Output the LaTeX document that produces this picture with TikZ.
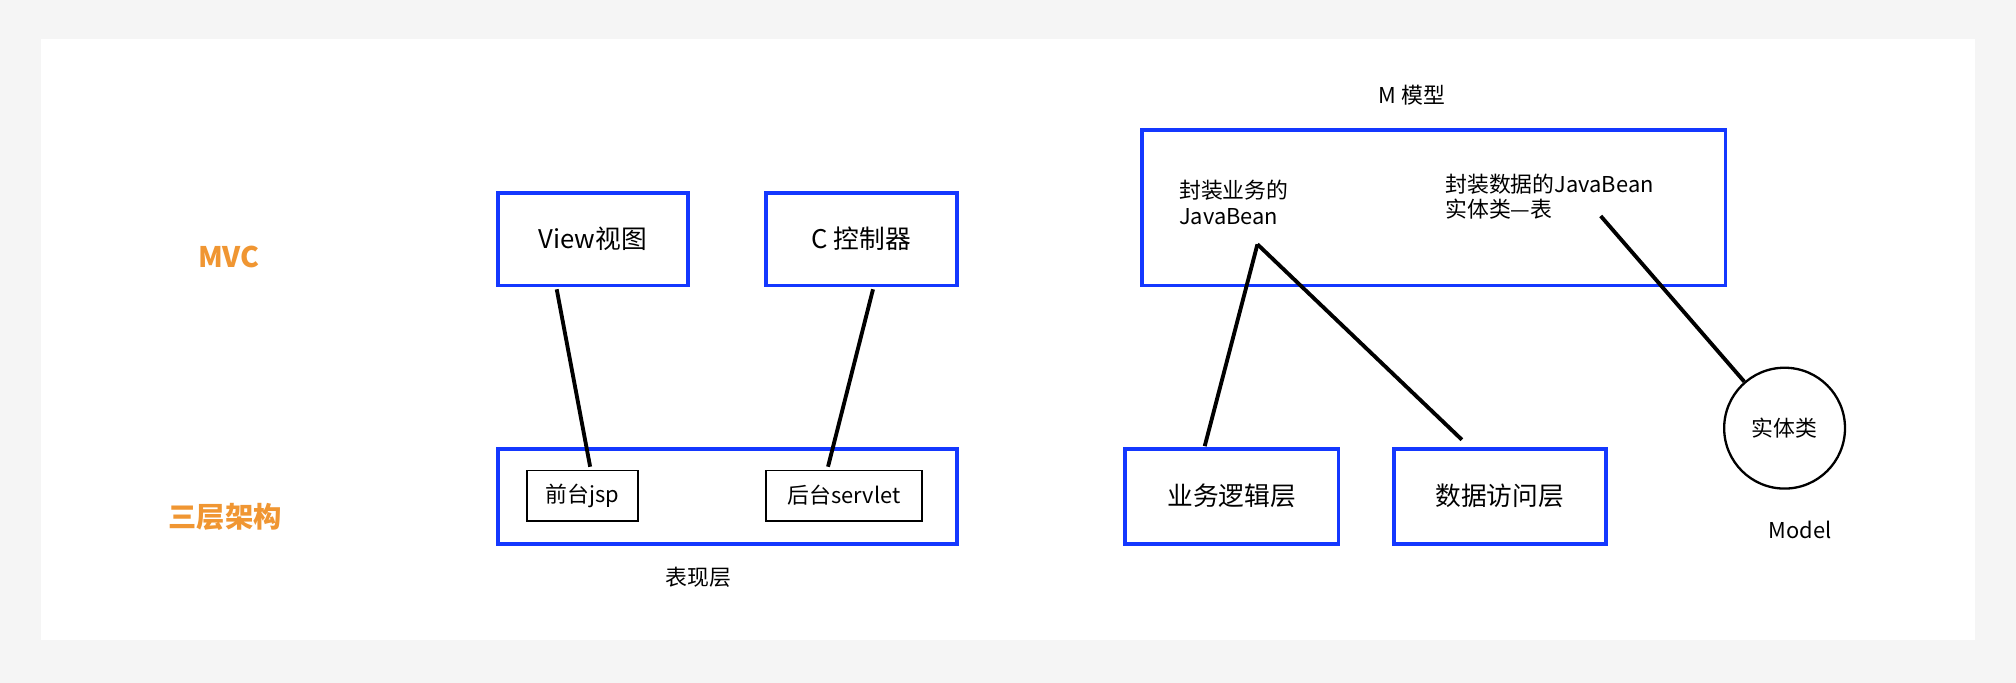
\documentclass[tikz,border=0pt]{standalone}
\usepackage{fontspec}
\setmainfont{Noto Sans CJK SC}
\begin{document}
\begin{tikzpicture}[x=1pt,y=-1pt,
 blue/.style={draw={rgb,255:red,20;green,56;blue,255},line width=3pt},
 inner/.style={draw=black,line width=1.3pt},
 conn/.style={line width=3pt,black},
 lbl/.style={font=\fontsize{17}{20}\selectfont},
 big/.style={font=\fontsize{20}{24}\selectfont},
 org/.style={font=\fontsize{22}{26}\selectfont\bfseries,text={rgb,255:red,240;green,150;blue,50}}]
\fill[gray!8] (0,0) rectangle (1568,531);
\useasboundingbox (0,0) rectangle (1568,531);
\fill[white] (32,30) rectangle (1536,498);
\node[org] (mvc) at (178,200) {MVC};
\node[org] (three) at (175,402) {三层架构};
\draw[blue] (387,150) rectangle (535,222); \node[big] (view) at (461,186) {View视图};
\draw[blue] (596,150) rectangle (744,222); \node[big] (ctrl) at (670,186) {C 控制器};
\draw[blue] (387,349) rectangle (744,423);
\draw[inner] (410,366) rectangle (496,405); \node[lbl] (jsp) at (453,385.5) {前台jsp};
\draw[inner] (596,366) rectangle (717,405); \node[lbl] (servlet) at (656.5,385.5) {后台servlet};
\node[lbl] (bx) at (543,449) {表现层};
\coordinate (v1) at (433,225); \coordinate (v2) at (459,363);
\coordinate (c1) at (679,225); \coordinate (c2) at (644,363);
\draw[conn] (v1)--(v2); \draw[conn] (c1)--(c2);
\node[lbl] (m) at (1098,74) {M 模型};
\draw[blue] (888,101) rectangle (1342,222);
\node[lbl,align=left,anchor=north west,inner sep=0] (biz) at (917,140) {封装业务的\\JavaBean};
\node[lbl,align=left,anchor=north west,inner sep=0] (data) at (1124,135) {封装数据的JavaBean\\实体类—表};
\draw[blue] (875,349) rectangle (1041,423); \node[big] (bl) at (958,386) {业务逻辑层};
\draw[blue] (1084,349) rectangle (1249,423); \node[big] (dl) at (1166.5,386) {数据访问层};
\coordinate (j) at (978,190); \coordinate (b1) at (937,347); \coordinate (b2) at (1137,342);
\draw[conn] (j)--(b1); \draw[conn] (j)--(b2);
\node[circle,draw,line width=1.8pt,minimum size=94pt,lbl] (ent) at (1388,333) {实体类};
\coordinate (e1) at (1245,168);
\draw[conn] (e1)--(ent);
\node[lbl] (model) at (1400,412) {Model};
\end{tikzpicture}
\end{document}
